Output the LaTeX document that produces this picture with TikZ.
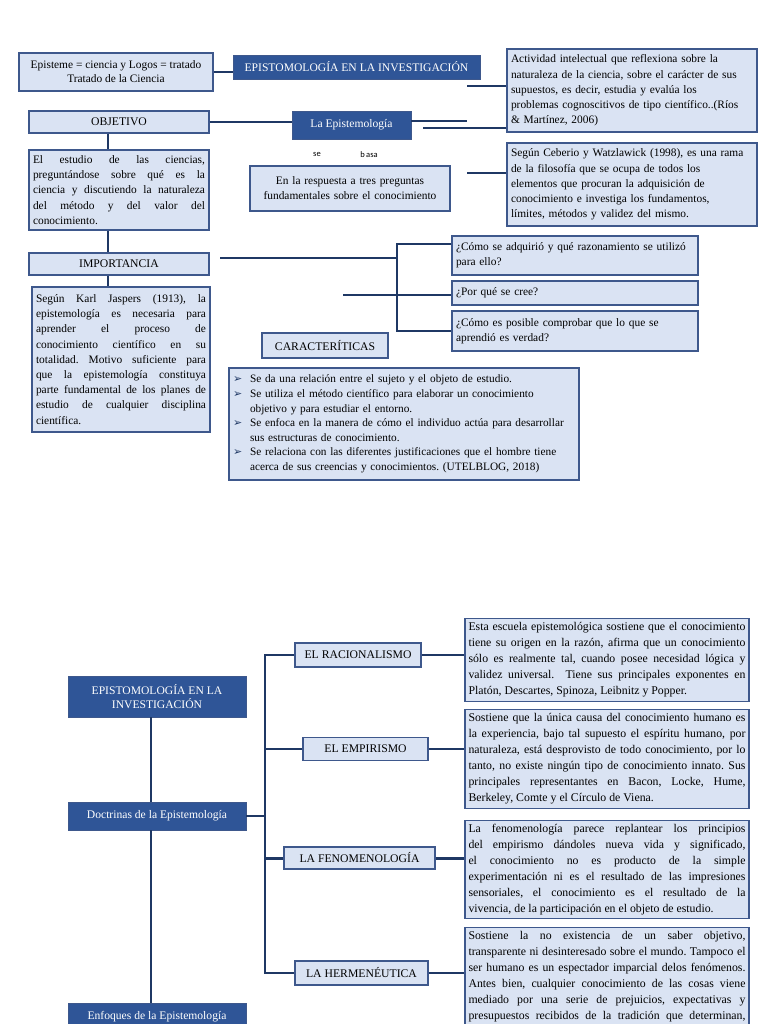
\documentclass[tikz,border=0pt]{standalone}
\usepackage{fontspec}
\setmainfont{Liberation Serif}
\newfontfamily\sansfont{Carlito}
\newfontfamily\symfont{DejaVu Sans}
\usetikzlibrary{positioning}
\definecolor{epfondo}{RGB}{218,227,243}
\definecolor{epborde}{RGB}{62,88,140}
\definecolor{epazul}{RGB}{47,85,151}
\definecolor{epnavy}{RGB}{31,56,100}
\newcommand{\bala}{\makebox[17pt][l]{\symfont\fontsize{11}{10}\selectfont\color{epnavy}➢}}
\newcommand{\sangria}{\hspace*{17pt}}
\frenchspacing

\begin{document}
\begin{tikzpicture}[x=1pt,y=-1pt,
  lbox/.style={draw=epborde,line width=1.1pt,fill=epfondo,inner sep=4pt,
    font=\fontsize{11.4}{15.2}\selectfont},
  label/.style={lbox,font=\fontsize{11.7}{13}\selectfont},
  dbox/.style={draw=epborde,fill=epazul,text=white,inner sep=3pt,
    font=\fontsize{11.6}{14}\selectfont},
  link/.style={draw=epnavy,line width=2.2pt},
  thinlink/.style={draw=epnavy,line width=2pt},
  bigtext/.style={lbox,inner xsep=3.5pt,text width=277pt,align=justify,
    font=\fontsize{11.8}{16}\selectfont}
]
  \useasboundingbox (0,0) rectangle (768,1024);
  \clip (0,0) rectangle (768,1024);

  % Parte superior
  \node[lbox,minimum width=194pt,minimum height=38pt,align=center,
    font=\fontsize{11.4}{14}\selectfont] (episteme) at (116,72)
    {Episteme = ciencia y Logos = tratado\\Tratado de la Ciencia};
  \node[dbox,minimum width=247pt,minimum height=24pt] (titulo) at (356.5,67)
    {EPISTOMOLOGÍA EN LA INVESTIGACIÓN};
  \node[lbox,text width=242pt,minimum height=83pt,align=left] (actividad) at (632,90.5)
    {Actividad intelectual que reflexiona sobre la\\
     naturaleza de la ciencia, sobre el carácter de sus\\
     supuestos, es decir, estudia y evalúa los\\
     problemas cognoscitivos de tipo científico..(Ríos\\
     \& Martínez, 2006)};
  \node[label,minimum width=180pt,minimum height=22pt] (objetivo) at (119,122) {OBJETIVO};
  \node[dbox,minimum width=119pt,minimum height=28pt] (laepis) at (351.5,125) {La Epistemología};
  \node[font=\sansfont\fontsize{8.5}{9}\selectfont] (se) at (317,154) {se};
  \node[font=\sansfont\fontsize{8.5}{9}\selectfont] (basa) at (369,155) {b\,asa};
  \node[lbox,text width=192pt,minimum height=45pt,align=center] (respuesta) at (350,188.5)
    {En la respuesta a tres preguntas\\fundamentales sobre el conocimiento};
  \node[lbox,text width=242pt,minimum height=83pt,align=left] (ceberio) at (632,184.5)
    {Según Ceberio y Watzlawick (1998), es una rama\\
     de la filosofía que se ocupa de todos los\\
     elementos que procuran la adquisición de\\
     conocimiento e investiga los fundamentos,\\
     límites, métodos y validez del mismo.};
  \node[lbox,text width=172pt,minimum height=80pt,align=justify] (estudio) at (119,190)
    {El estudio de las ciencias,\linebreak
     preguntándose sobre qué es la\linebreak
     ciencia y discutiendo la naturaleza\linebreak
     del método y del valor del\linebreak
     conocimiento.};
  \node[label,minimum width=180pt,minimum height=22pt] (importancia) at (119,264) {IMPORTANCIA};
  \node[lbox,text width=170pt,minimum height=145pt,align=justify] (karl) at (121,359.5)
    {Según Karl Jaspers (1913), la\linebreak
     epistemología es necesaria para\linebreak
     aprender el proceso de\linebreak
     conocimiento científico en su\linebreak
     totalidad. Motivo suficiente para\linebreak
     que la epistemología constituya\linebreak
     parte fundamental de los planes de\linebreak
     estudio de cualquier disciplina\linebreak
     científica.};
  \node[lbox,text width=238pt,minimum height=39pt,align=left] (pregA) at (575,255.5)
    {¿Cómo se adquirió y qué razonamiento se utilizó\\para ello?};
  \node[lbox,text width=238pt,minimum height=24pt,align=left] (pregB) at (575,293)
    {¿Por qué se cree?};
  \node[lbox,text width=238pt,minimum height=40pt,align=left] (pregC) at (575,331)
    {¿Cómo es posible comprobar que lo que se\\aprendió es verdad?};
  \node[label,minimum width=126pt,minimum height=25pt] (caract) at (325,345.5) {CARACTERÍTICAS};
  \node[lbox,text width=342pt,minimum height=112pt,align=left,
    font=\fontsize{11.3}{14.6}\selectfont] (lista) at (404,424)
    {\bala Se da una relación entre el sujeto y el objeto de estudio.\\
     \bala Se utiliza el método científico para elaborar un conocimiento\\
     \sangria objetivo y para estudiar el entorno.\\
     \bala Se enfoca en la manera de cómo el individuo actúa para desarrollar\\
     \sangria sus estructuras de conocimiento.\\
     \bala Se relaciona con las diferentes justificaciones que el hombre tiene\\
     \sangria acerca de sus creencias y conocimientos. (UTELBLOG, 2018)};

  \coordinate (cA) at (467,86);
  \coordinate (cB) at (467,121);
  \coordinate (cC) at (423,128);
  \coordinate (cD) at (467,173);
  \coordinate (cE) at (220,258);
  \coordinate (cF) at (343,295);
  \coordinate (ejeA) at (108,0);
  \coordinate (llave) at (397,0);

  \draw[link] (episteme.east) -- (episteme.east -| titulo.west);
  \draw[link] (cA) -- (cA -| actividad.west);
  \draw[link] (objetivo.east) -- (objetivo.east -| laepis.west);
  \draw[link] (laepis.east |- cB) -- (cB);
  \draw[link] (cC) -- (cC -| actividad.west);
  \draw[link] (cD) -- (cD -| ceberio.west);
  \draw[link] (objetivo.south -| ejeA) -- (estudio.north -| ejeA);
  \draw[link] (estudio.south -| ejeA) -- (importancia.north -| ejeA);
  \draw[link] (importancia.south -| ejeA) -- (karl.north -| ejeA);
  \draw[link] (cE) -- (cE -| llave);
  \draw[link] ([yshift=11.5pt]pregA.west) -| (llave |- pregC.west) -- (pregC.west);
  \draw[link] (cF) -- (cF -| pregB.west);

  % Parte inferior
  \node[dbox,minimum width=178pt,minimum height=41pt,align=center] (titulo2) at (157,696.5)
    {EPISTOMOLOGÍA EN LA\\INVESTIGACIÓN};
  \node[dbox,minimum width=178pt,minimum height=28pt] (doctrinas) at (157,816)
    {Doctrinas de la Epistemología};
  \node[dbox,minimum width=178pt,minimum height=28pt] (enfoques) at (157,1017)
    {Enfoques de la Epistemología};

  \node[label,minimum width=126pt,minimum height=24pt] (racional) at (358,655) {EL RACIONALISMO};
  \node[label,minimum width=125pt,minimum height=23pt] (empirismo) at (365.5,749) {EL EMPIRISMO};
  \node[label,minimum width=151pt,minimum height=22pt] (fenomen) at (359.5,858) {LA FENOMENOLOGÍA};
  \node[label,minimum width=133pt,minimum height=24pt] (hermen) at (361.5,973) {LA HERMENÉUTICA};

  \node[bigtext,minimum height=80pt] (trac) at (607,660)
    {Esta escuela epistemológica sostiene que el conocimiento\linebreak
     tiene su origen en la razón, afirma que un conocimiento\linebreak
     sólo es realmente tal, cuando posee necesidad lógica y\linebreak
     validez universal.\ \ Tiene sus principales exponentes en\linebreak
     Platón, Descartes, Spinoza, Leibnitz y Popper.};
  \node[bigtext,minimum height=98pt] (temp) at (607,759)
    {Sostiene que la única causa del conocimiento humano es\linebreak
     la experiencia, bajo tal supuesto el espíritu humano, por\linebreak
     naturaleza, está desprovisto de todo conocimiento, por lo\linebreak
     tanto, no existe ningún tipo de conocimiento innato. Sus\linebreak
     principales representantes en Bacon, Locke, Hume,\linebreak
     Berkeley, Comte y el Círculo de Viena.};
  \node[bigtext,minimum height=97pt] (tfen) at (607,869.5)
    {La fenomenología parece replantear los principios\linebreak
     del empirismo dándoles nueva vida y significado,\linebreak
     el conocimiento no es producto de la simple\linebreak
     experimentación ni es el resultado de las impresiones\linebreak
     sensoriales, el conocimiento es el resultado de la\linebreak
     vivencia, de la participación en el objeto de estudio.};
  \node[bigtext,anchor=north] (ther) at (607,927)
    {Sostiene la no existencia de un saber objetivo,\linebreak
     transparente ni desinteresado sobre el mundo. Tampoco el\linebreak
     ser humano es un espectador imparcial delos fenómenos.\linebreak
     Antes bien, cualquier conocimiento de las cosas viene\linebreak
     mediado por una serie de prejuicios, expectativas y\linebreak
     presupuestos recibidos de la tradición que determinan,\linebreak
     \rule{0pt}{30pt}};

  \coordinate (ejeB) at (151,0);
  \coordinate (ramal) at (265,0);

  \draw[thinlink] (titulo2.south -| ejeB) -- (doctrinas.north -| ejeB);
  \draw[thinlink] (doctrinas.south -| ejeB) -- (enfoques.north -| ejeB);
  \draw[thinlink] (doctrinas.east) -- (doctrinas.east -| ramal);
  \draw[thinlink] (racional.west) -| (ramal |- hermen.west) -- (hermen.west);
  \draw[thinlink] (ramal |- empirismo.west) -- (empirismo.west);
  \draw[link,line width=3pt] (ramal |- fenomen.west) -- (fenomen.west);
  \draw[thinlink] (racional.east) -- (racional.east -| trac.west);
  \draw[thinlink] (empirismo.east) -- (empirismo.east -| temp.west);
  \draw[link,line width=3pt] (fenomen.east) -- (fenomen.east -| tfen.west);
  \draw[thinlink] (hermen.east) -- (hermen.east -| ther.west);
\end{tikzpicture}
\end{document}
